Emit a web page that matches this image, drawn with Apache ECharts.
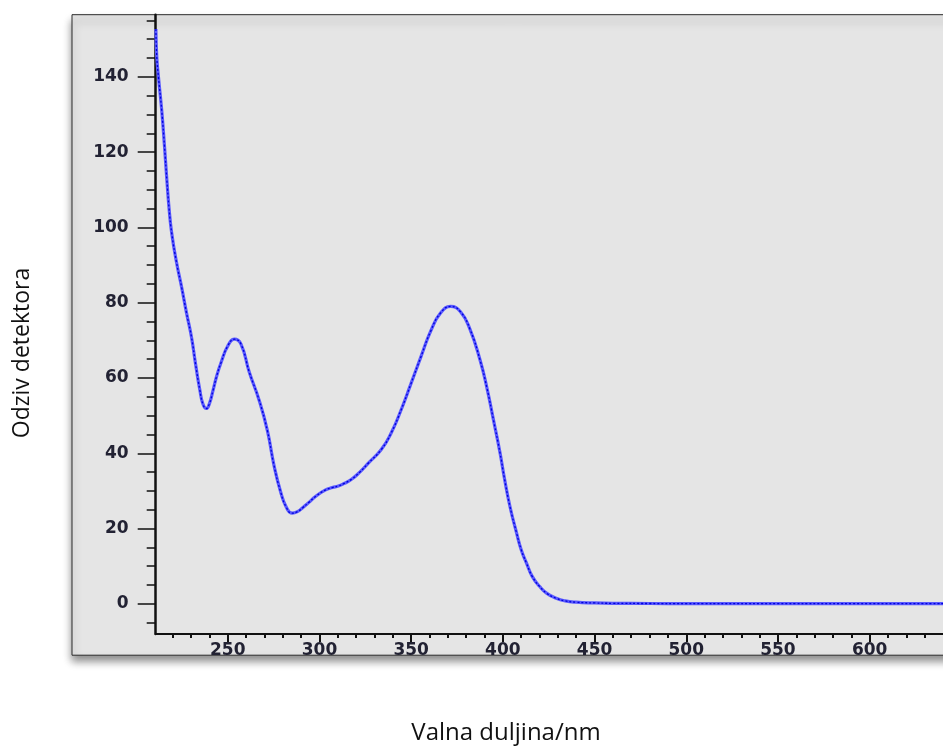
<!DOCTYPE html>
<html>
<head>
<meta charset="utf-8">
<script src="https://cdn.jsdelivr.net/npm/echarts@6/dist/echarts.min.js"></script>
<style>
  html, body { margin: 0; padding: 0; background: #fff; }
  #chart { width: 943px; height: 749px; }
</style>
</head>
<body>
<div id="chart"></div>
<script>
// wavelength (nm) and detector response
const wavelengths = [210.8, 211.3, 212.2, 214.0, 215.5, 216.8, 218.0, 219.4, 222.1, 224.8,
  227.5, 230.2, 232.5, 234.7, 236.5, 238.3, 240.0, 241.9, 244.0, 246.4,
  250.0, 253.6, 257.2, 261.7, 267.1, 271.6, 275.2, 278.8, 282.0, 285.1,
  288.0, 291.0, 294.1, 298.0, 303.1, 307.0, 310.3, 313.5, 317.5, 322.0,
  326.5, 333.7, 339.1, 344.5, 349.9, 355.3, 360.7, 366.1, 371.5, 376.9,
  382.2, 387.6, 391.3, 394.9, 398.5, 400.8, 403.9, 407.5, 410.0, 412.9,
  416.0, 420.1, 424.0, 429.1, 434.0, 439.9, 450.0, 460.0, 480.0, 500.0,
  550.0, 600.0, 640.0];
const response = [152.7, 145.2, 140.0, 131.0, 121.5, 112.5, 105.0, 98.6, 90.6, 84.2,
  77.3, 70.9, 63.5, 57.0, 53.0, 51.9, 53.2, 56.6, 60.6, 64.2,
  68.5, 70.3, 69.0, 61.6, 54.1, 46.0, 36.8, 29.8, 25.6, 24.1,
  24.5, 25.6, 26.9, 28.6, 30.2, 30.9, 31.3, 32.0, 33.1, 35.0,
  37.3, 41.0, 45.4, 51.5, 58.5, 65.6, 72.5, 77.3, 79.0, 77.6,
  72.8, 64.7, 57.4, 48.8, 40.0, 33.5, 25.8, 18.8, 14.4, 10.8,
  7.3, 4.6, 2.8, 1.5, 0.8, 0.45, 0.25, 0.15, 0.1, 0.08,
  0.05, 0.05, 0.05];

const xMajorTicks = [250, 300, 350, 400, 450, 500, 550, 600];
const xMinorTicks = [220, 230, 240, 250, 260, 270, 280, 290, 300, 310, 320, 330, 340, 350, 360, 370, 380, 390,
  400, 410, 420, 430, 440, 450, 460, 470, 480, 490, 500, 510, 520, 530, 540, 550, 560, 570, 580, 590,
  600, 610, 620, 630];
const yMajorTicks = [0, 20, 40, 60, 80, 100, 120, 140];
const yMinorTicks = [-5, 0, 5, 10, 15, 20, 25, 30, 35, 40, 45, 50, 55, 60, 65, 70, 75, 80, 85, 90, 95,
  100, 105, 110, 115, 120, 125, 130, 135, 140, 145, 150, 155];

const xTitle = 'Valna duljina/nm';
const yTitle = 'Odziv detektora';

const points = wavelengths.map((w, i) => [w, response[i]]);

let chart = echarts.init(document.getElementById('chart'), null, { renderer: 'canvas' });

const labelFont = {
  fontFamily: 'DejaVu Sans',
  fontWeight: 'bold',
  fontSize: 17,
  color: '#222233'
};

let xBase = { type: 'value', min: 210.7, max: 640, position: 'bottom', splitLine: { show: false } };
let yBase = { type: 'value', min: -8, max: 156.5, position: 'left', splitLine: { show: false } };

let option = {
  animation: false,
  grid: { left: 155.7, top: 14.7, right: -6, bottom: 115, containLabel: false },
  graphic: [
    {
      type: 'rect', z: -10, silent: true,
      shape: { x: 72, y: 14.7, width: 920, height: 640.5 },
      style: {
        fill: '#e5e5e5', stroke: '#2a2a2a', lineWidth: 1,
        shadowBlur: 8, shadowOffsetY: 6, shadowColor: 'rgba(0,0,0,0.45)'
      }
    },
    {
      type: 'text', x: 506, y: 733,
      style: { text: xTitle, font: '24px "Open Sans"', fill: '#111', align: 'center', verticalAlign: 'middle' }
    },
    {
      type: 'text', x: 22, y: 353, rotation: Math.PI / 2,
      style: { text: yTitle, font: '23px "Open Sans"', fill: '#111', align: 'center', verticalAlign: 'middle' }
    }
  ],
  xAxis: [
    Object.assign({}, xBase, {
      axisLine: { show: true, onZero: false, lineStyle: { color: '#111', width: 2 } },
      axisTick: { show: true, length: 8, customValues: xMajorTicks, lineStyle: { color: '#111', width: 2 } },
      axisLabel: Object.assign({ margin: 8, customValues: xMajorTicks }, labelFont)
    }),
    Object.assign({}, xBase, {
      axisLine: { show: false, onZero: false },
      axisTick: { show: true, length: 4, customValues: xMinorTicks, lineStyle: { color: '#111', width: 2 } },
      axisLabel: { show: false }
    })
  ],
  yAxis: [
    Object.assign({}, yBase, {
      axisLine: { show: true, onZero: false, lineStyle: { color: '#111', width: 2.5 } },
      axisTick: { show: true, length: 18, customValues: yMajorTicks, lineStyle: { color: '#111', width: 1.5 } },
      axisLabel: Object.assign({ margin: 27, customValues: yMajorTicks }, labelFont)
    }),
    Object.assign({}, yBase, {
      axisLine: { show: false, onZero: false },
      axisTick: { show: true, length: 9, customValues: yMinorTicks, lineStyle: { color: '#111', width: 1.5 } },
      axisLabel: { show: false }
    })
  ],
  series: [
    {
      type: 'line', data: points, smooth: 0.5, showSymbol: false,
      lineStyle: { color: '#5a5aff', width: 3.2 }
    },
    {
      type: 'line', data: points, smooth: 0.5, showSymbol: false,
      lineStyle: { color: '#0000d8', width: 1.3, type: [2, 2] }
    }
  ]
};

option && chart.setOption(option);
</script>
</body>
</html>
